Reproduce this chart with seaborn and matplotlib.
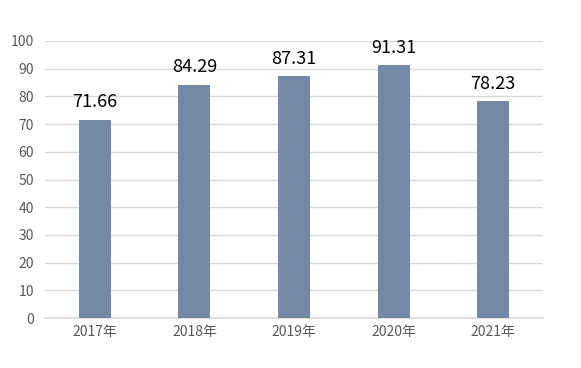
import matplotlib
matplotlib.use("Agg")
import matplotlib.pyplot as plt
import seaborn as sns
import pandas as pd

years = ["2017年", "2018年", "2019年", "2020年", "2021年"]
values = [71.66, 84.29, 87.31, 91.31, 78.23]

sns.set_theme(style="white")
plt.rcParams['font.family'] = ['Noto Sans CJK SC', 'DejaVu Sans']

df = pd.DataFrame({"year": years, "value": values})

fig = plt.figure(figsize=(5.81, 3.68), dpi=100)
ax = fig.add_axes([45/581, 1-318/368, (543-45)/581, (318-41)/368])
sns.barplot(data=df, x="year", y="value", color="#7489A8", width=0.32,
            saturation=1, ax=ax, zorder=3, linewidth=0)
ax.set_ylim(0, 100)
ax.set_xlim(-0.5, 4.5)
ax.set_yticks(range(0, 101, 10))
ax.yaxis.grid(True, color="#D9D9D9", linewidth=1, zorder=0)
ax.set_axisbelow(True)
for s in ax.spines.values():
    s.set_visible(False)
ax.spines['bottom'].set_visible(True)
ax.spines['bottom'].set_color("#D9D9D9")
ax.set_xlabel("")
ax.set_ylabel("")
ax.tick_params(axis='both', length=0, labelsize=10, colors="#595959")
ax.tick_params(axis='x', pad=5)
ax.tick_params(axis='y', pad=8)
for i, v in enumerate(values):
    ax.annotate(f"{v:.2f}", (i, v), xytext=(0, 6), textcoords="offset points",
                ha="center", va="bottom", fontsize=13, color="#000000")
fig.savefig("out.png", dpi=100)
